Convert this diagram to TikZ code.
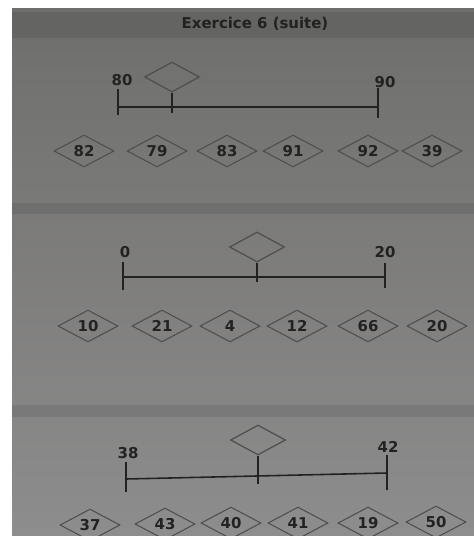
\documentclass[tikz,border=0pt]{standalone}
\usepackage{fontspec}
\setmainfont{DejaVu Sans}
\usepackage{tikz}
\usetikzlibrary{calc,shapes.geometric}

\definecolor{paperdark}{RGB}{110,110,108}
\definecolor{papermid}{RGB}{126,125,123}
\definecolor{paperlight}{RGB}{142,141,141}
\definecolor{ink}{RGB}{34,34,34}
\definecolor{rimgray}{RGB}{78,78,78}

\begin{document}
\begin{tikzpicture}[x=0.2mm,y=-0.2mm]
	\tikzstyle{choice}=[diamond, aspect=2, draw=rimgray, line width=0.6pt, inner sep=0pt, minimum width=1.2cm, minimum height=0.64cm, text=ink, font=\bfseries\fontsize{8.5}{9}\selectfont]
	\tikzstyle{blank}=[diamond, aspect=2, draw=rimgray, line width=0.7pt, inner sep=0pt, minimum width=1.1cm, minimum height=0.6cm]
	\tikzstyle{bound}=[text=ink, inner sep=1pt, font=\bfseries\fontsize{8.5}{9}\selectfont]
	\tikzstyle{tick}=[draw=ink, line width=1.5pt]
	\tikzstyle{axis}=[draw=ink, line width=0.9pt]
	\tikzstyle{band}=[fill=black, opacity=0.09]

	\useasboundingbox (0,0) rectangle (474,536);
	\clip (0,0) rectangle (474,536);

	% paper
	\fill [white] (0,0) rectangle (474,536);
	\shade [top color=paperdark, middle color=papermid, bottom color=paperlight] (12,8) rectangle (474,536);
	\fill [band] (12,12) rectangle (474,38);
	\fill [band] (12,203) rectangle (474,214);
	\fill [band] (12,405) rectangle (474,417);

	\node (title) [font=\bfseries\fontsize{8.5}{9}\selectfont, text=ink] at (255,24) {Exercice 6 (suite)};

	% first line: 80 .. 90
	\coordinate (L1) at (118,107);
	\coordinate (R1) at (378,107);
	\coordinate (S1) at (172,113);
	\node (lo1) [bound] at (122,80) {80};
	\node (hi1) [bound] at (385,82) {90};
	\node (q1) [blank] at (172,77) {};
	\draw [tick] ($(L1)+(0,-18)$) -- ($(L1)+(0,8)$);
	\draw [tick] ($(R1)+(0,-19)$) -- ($(R1)+(0,11)$);
	\draw [axis] (L1) -- (R1);
	\draw [axis] (q1.south) -- (S1);

	\node (a1) [choice] at (84,151) {82};
	\node (a2) [choice] at (157,151) {79};
	\node (a3) [choice] at (227,151) {83};
	\node (a4) [choice] at (293,151) {91};
	\node (a5) [choice] at (368,151) {92};
	\node (a6) [choice] at (432,151) {39};

	% second line: 0 .. 20
	\coordinate (L2) at (123,277);
	\coordinate (R2) at (385,277);
	\coordinate (S2) at (257,282);
	\node (lo2) [bound] at (125,252) {0};
	\node (hi2) [bound] at (385,252) {20};
	\node (q2) [blank] at (257,247) {};
	\draw [tick] ($(L2)+(0,-15)$) -- ($(L2)+(0,13)$);
	\draw [tick] ($(R2)+(0,-14)$) -- ($(R2)+(0,11)$);
	\draw [axis] (L2) -- (R2);
	\draw [axis] (q2.south) -- (S2);

	\node (b1) [choice] at (88,326) {10};
	\node (b2) [choice] at (162,326) {21};
	\node (b3) [choice] at (230,326) {4};
	\node (b4) [choice] at (297,326) {12};
	\node (b5) [choice] at (368,326) {66};
	\node (b6) [choice] at (437,326) {20};

	% third line: 38 .. 42
	\coordinate (L3) at (126,479);
	\coordinate (R3) at (387,473);
	\coordinate (S3) at (258,484);
	\node (lo3) [bound] at (128,453) {38};
	\node (hi3) [bound] at (388,447) {42};
	\node (q3) [blank] at (258,440) {};
	\draw [tick] ($(L3)+(0,-17)$) -- ($(L3)+(0,13)$);
	\draw [tick] ($(R3)+(0,-18)$) -- ($(R3)+(0,17)$);
	\draw [axis] (L3) -- (R3);
	\draw [axis] (q3.south) -- (S3);

	\node (c1) [choice] at (90,525) {37};
	\node (c2) [choice] at (165,524) {43};
	\node (c3) [choice] at (231,523) {40};
	\node (c4) [choice] at (298,523) {41};
	\node (c5) [choice] at (368,523) {19};
	\node (c6) [choice] at (436,522) {50};
\end{tikzpicture}
\end{document}
